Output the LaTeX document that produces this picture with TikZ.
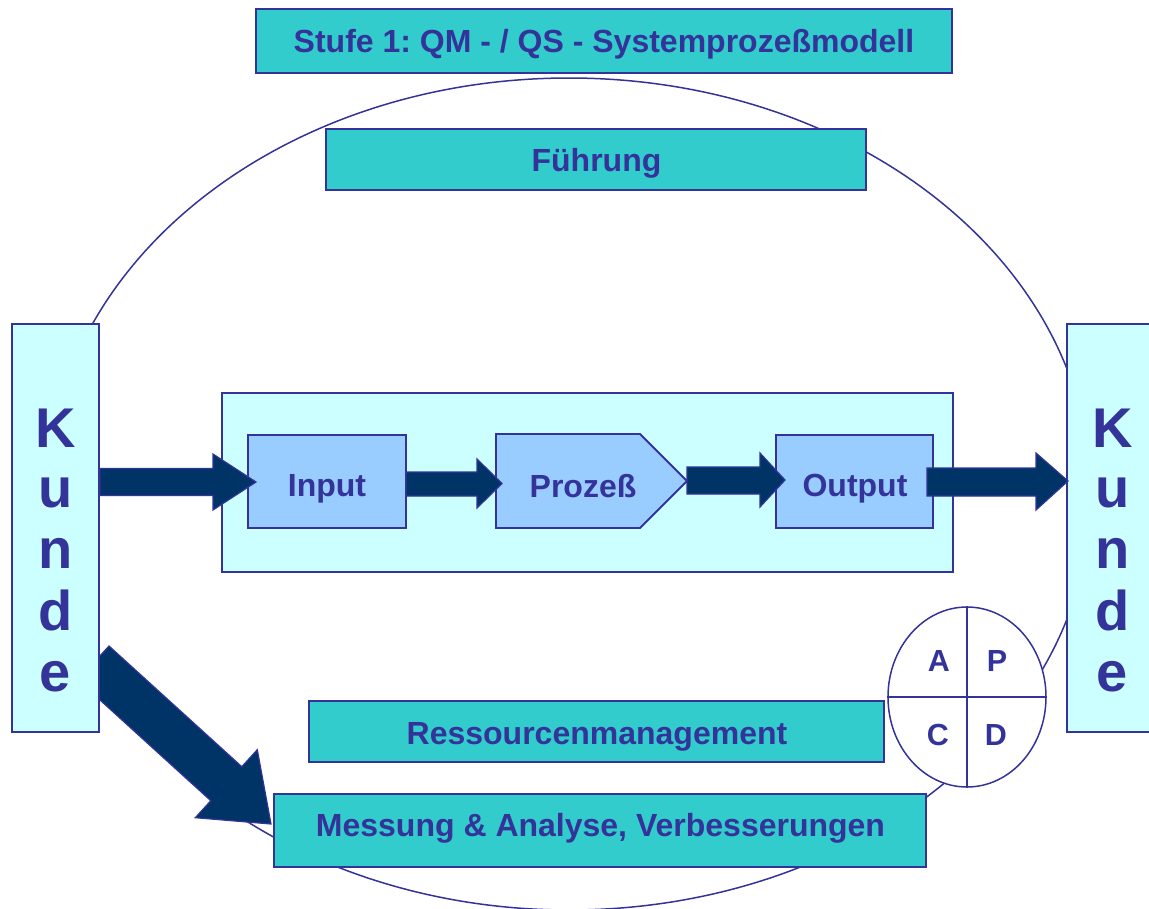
\documentclass[tikz,border=0pt]{standalone}
\usepackage{fontspec}
\setmainfont{Liberation Sans}
\usetikzlibrary{shapes.geometric}
\definecolor{teal1}{HTML}{33CCCC}
\definecolor{cyan1}{HTML}{CCFFFF}
\definecolor{blue1}{HTML}{99CCFF}
\definecolor{navy1}{HTML}{003366}
\definecolor{ink}{HTML}{333399}
\frenchspacing
\tikzset{
  lbl/.style={font=\fontsize{32}{36}\selectfont\bfseries, text=ink, anchor=base, inner sep=0pt},
  bigl/.style={font=\fontsize{56}{60}\selectfont\bfseries, text=ink, anchor=base, inner sep=0pt},
  pdl/.style={font=\fontsize{30.5}{34}\selectfont\bfseries, text=ink, inner sep=0pt},
  boxbase/.style={rectangle, draw=ink, line width=1.8pt, inner sep=0pt, outer sep=0pt},
  tealbox/.style={boxbase, fill=teal1},
  cyanbox/.style={boxbase, fill=cyan1},
  bluebox/.style={boxbase, fill=blue1},
  blk/.style={fill=navy1, draw=ink, line width=1.2pt, line join=miter},
  ring/.style={draw=ink, line width=1.5pt}
}
\begin{document}
\begin{tikzpicture}[x=1pt, y=-1pt]
\path[use as bounding box] (0,0) rectangle (1149,908);
\clip (0,0) rectangle (1149,908);
% big ellipse
\draw[ring] (569,494) ellipse [x radius=522pt, y radius=416pt];
% teal boxes
\node[tealbox, minimum width=696pt, minimum height=64pt] (title) at (604,41) {};
\node[lbl] (titleT) at (604,52) {Stufe 1: QM - / QS - Systemprozeßmodell};
\node[tealbox, minimum width=540pt, minimum height=61pt] (fuehrung) at (596,159.5) {};
\node[lbl] (fuehrungT) at (596.5,171) {Führung};
\node[tealbox, minimum width=575pt, minimum height=61pt] (ress) at (596.5,731.5) {};
\node[lbl] (ressT) at (597,744) {Ressourcenmanagement};
\node[tealbox, minimum width=652pt, minimum height=73pt] (mess) at (600,830.5) {};
\node[lbl] (messT) at (600.5,836) {Messung \& Analyse, Verbesserungen};
% process area
\node[cyanbox, minimum width=731pt, minimum height=179pt] (inner) at (587.5,482.5) {};
\node[bluebox, minimum width=158pt, minimum height=93pt] (input) at (327,481.5) {};
\node[lbl] (inputT) at (327,496) {Input};
\draw[fill=blue1, draw=ink, line width=1.8pt, line join=miter] (496,434) -- (640,434) -- (687,481) -- (640,528) -- (496,528) -- cycle;
\node[lbl] (prozess) at (583,497) {Prozeß};
\node[bluebox, minimum width=157pt, minimum height=93pt] (output) at (854.5,481.5) {};
\node[lbl] (outputT) at (855,496) {Output};
% diagonal arrow
\draw[blk] (109,646) -- (241.8,766.7) -- (257.3,749.7) -- (271,824) -- (195.3,817.7) -- (210.8,800.7) -- (78,680) -- cycle;
% Kunde boxes
\node[cyanbox, minimum width=87pt, minimum height=408pt] (kundeL) at (55.5,528) {};
\node[cyanbox, minimum width=87pt, minimum height=408pt] (kundeR) at (1110.5,528) {};
\foreach \c/\y/\n in {K/447/1,u/507/2,n/568/3,d/630/4,e/691/5}{
  \node[bigl] (kl\n) at (55.5,\y) {\c};
  \node[bigl] (kr\n) at (1112.5,\y) {\c};
}
% horizontal block arrows
\draw[blk] (100,468.5) -- (213,468.5) -- (213,454) -- (256,482) -- (213,510) -- (213,495.5) -- (100,495.5) -- cycle;
\draw[blk] (406,472) -- (477,472) -- (477,459) -- (502,483.5) -- (477,508) -- (477,496) -- (406,496) -- cycle;
\draw[blk] (687,467) -- (760,467) -- (760,453) -- (785,480) -- (760,507) -- (760,494) -- (687,494) -- cycle;
\draw[blk] (927,468) -- (1036,468) -- (1036,453) -- (1068,481) -- (1036,510) -- (1036,496) -- (927,496) -- cycle;
% PDCA
\node[ellipse, draw=ink, line width=1.5pt, fill=white, minimum width=158pt, minimum height=180pt, inner sep=0pt] (pdca) at (967,697) {};
\draw[ring] (pdca.north) -- (pdca.south);
\draw[ring] (pdca.west) -- (pdca.east);
\node[pdl] (pa) at (939,661) {A};
\node[pdl] (pp) at (997,661) {P};
\node[pdl] (pc) at (938,735) {C};
\node[pdl] (pd) at (996,735) {D};
\end{tikzpicture}
\end{document}
